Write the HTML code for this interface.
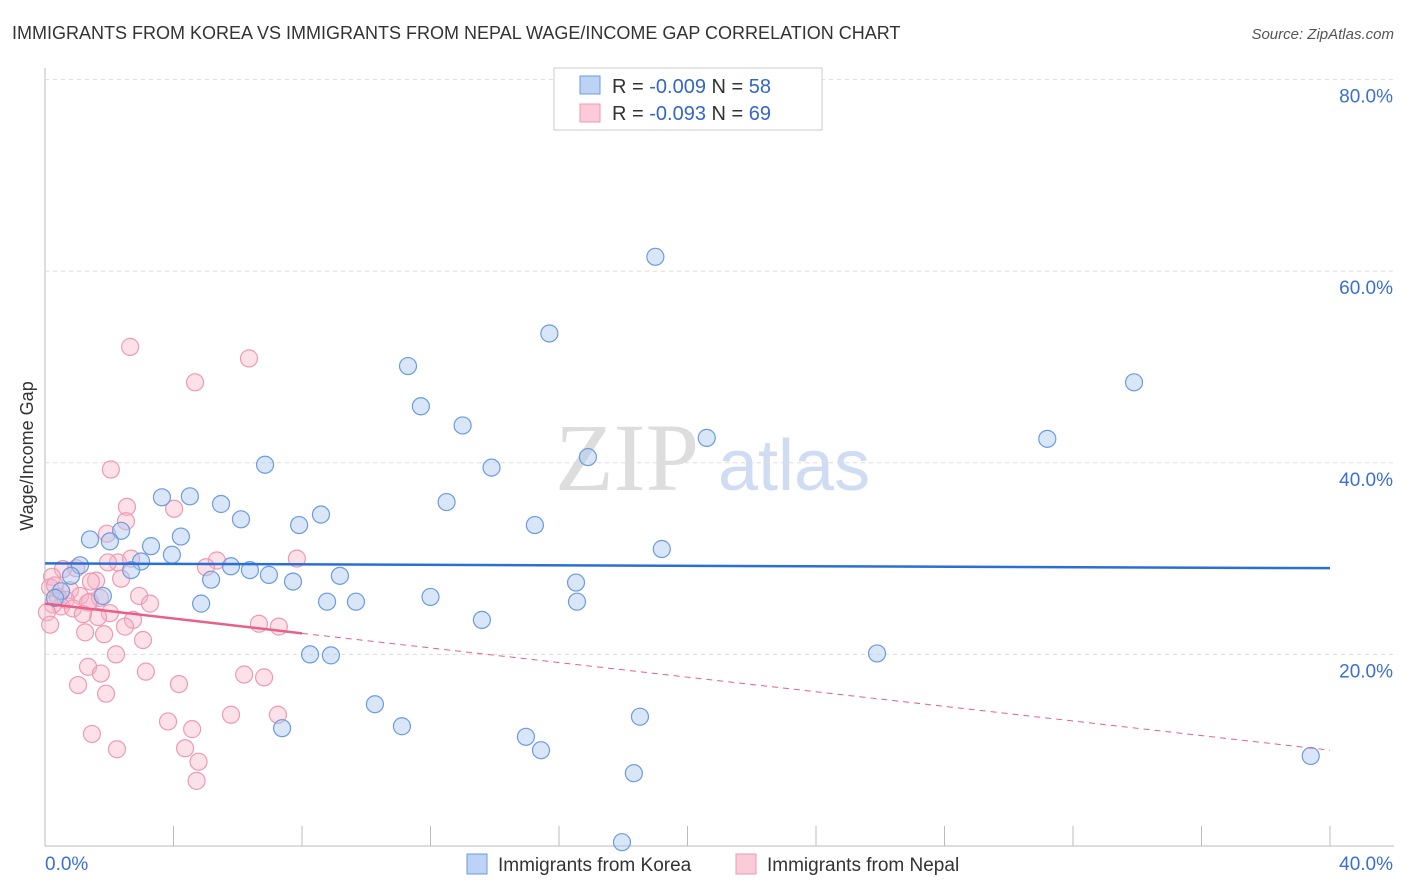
<!DOCTYPE html>
<html><head><meta charset="utf-8"><style>
body{margin:0;background:#fff;font-family:"Liberation Sans",sans-serif}
svg{display:block}
</style></head><body>
<svg id="c" width="1406" height="892">
<text x="12" y="39" font-size="18" fill="#333">IMMIGRANTS FROM KOREA VS IMMIGRANTS FROM NEPAL WAGE/INCOME GAP CORRELATION CHART</text>
<text x="1394" y="39" font-size="15" fill="#555" font-style="italic" text-anchor="end">Source: ZipAtlas.com</text>
<text x="33" y="456" font-size="18" fill="#333" text-anchor="middle" transform="rotate(-90 33 456)">Wage/Income Gap</text>
<g><text x="555" y="490" font-size="96" fill="#ddd" font-family="Liberation Serif,serif">ZIP</text><text x="718" y="490" font-size="72" fill="#cfdcf2">atlas</text></g>
<g id="grid"></g><g id="pts"></g><g id="lines"></g>
<g>
<rect x="554" y="68" width="268" height="62" fill="#fff" stroke="#ccc"/>
<rect x="580" y="76" width="20" height="18" fill="#bcd3f5" stroke="#6b9be0"/>
<rect x="580" y="104" width="20" height="18" fill="#fbcbd9" stroke="#ee9ab3"/>
<text x="612" y="93" font-size="20" fill="#333">R = <tspan fill="#3366cc">-0.009</tspan>   N = <tspan fill="#3366cc">58</tspan></text>
<text x="612" y="120" font-size="20" fill="#333">R = <tspan fill="#3366cc"> -0.093</tspan>   N = <tspan fill="#3366cc">69</tspan></text>
</g>
<g>
<rect x="467" y="854" width="20" height="20" fill="#bcd3f5" stroke="#6b9be0"/>
<text x="498" y="871" font-size="19" fill="#333">Immigrants from Korea</text>
<rect x="736" y="854" width="20" height="20" fill="#fbcbd9" stroke="#ee9ab3"/>
<text x="767" y="871" font-size="19" fill="#333">Immigrants from Nepal</text>
</g>
</svg>
<script>
const yTicks=[20,40,60,80];
const xTickLabels=["0.0%","40.0%"];
const korea=[[19.0,61.5],[15.7,53.5],[11.3,50.1],[33.9,48.4],[11.7,45.9],[13.0,43.9],[20.6,42.6],[31.2,42.5],[16.9,40.6],[6.85,39.8],[13.9,39.5],[3.64,36.4],[4.51,36.5],[12.5,35.9],[5.48,35.7],[6.1,34.1],[8.59,34.6],[7.91,33.5],[15.25,33.5],[2.37,32.9],[1.4,32.0],[4.23,32.3],[3.3,31.3],[2.02,31.8],[3.95,30.4],[19.2,31.0],[1.09,29.3],[2.99,29.7],[5.79,29.2],[6.38,28.8],[2.68,28.8],[6.97,28.3],[5.17,27.8],[7.72,27.6],[9.18,28.2],[16.53,27.5],[0.81,28.2],[1.8,26.1],[0.5,26.6],[0.31,25.9],[12.0,26.0],[8.78,25.5],[9.68,25.5],[16.56,25.5],[4.86,25.3],[13.6,23.6],[8.25,20.0],[8.9,19.9],[25.9,20.1],[10.27,14.8],[11.11,12.5],[7.38,12.3],[18.52,13.5],[14.97,11.4],[15.44,10.0],[18.33,7.6],[39.4,9.4],[17.96,0.4]];
const nepal=[[2.65,52.1],[6.35,50.9],[4.67,48.4],[2.05,39.3],[2.55,35.4],[4.02,35.2],[2.52,33.9],[1.93,32.6],[2.27,29.6],[2.68,30.0],[5.35,29.8],[7.84,30.0],[1.96,29.6],[5.01,29.1],[0.56,28.9],[0.97,29.0],[0.22,28.1],[2.37,27.9],[1.59,27.7],[1.43,27.6],[0.16,27.0],[0.31,27.2],[0.78,26.7],[0.4,26.0],[1.09,26.1],[2.93,26.1],[0.65,25.7],[1.4,25.5],[1.71,25.9],[3.27,25.3],[0.5,25.0],[0.25,25.2],[0.87,24.8],[1.34,25.4],[0.06,24.4],[2.02,24.3],[1.65,23.9],[2.74,23.6],[1.18,24.2],[2.49,22.9],[6.66,23.2],[7.28,22.9],[1.25,22.3],[1.84,22.1],[0.16,23.1],[3.05,21.5],[2.21,20.0],[1.34,18.7],[3.14,18.2],[4.17,16.9],[1.74,18.0],[6.2,17.9],[6.82,17.6],[1.03,16.8],[1.9,15.9],[1.46,11.7],[5.79,13.7],[7.25,13.7],[3.83,13.0],[4.58,12.2],[2.24,10.1],[4.36,10.2],[4.78,8.8],[4.72,6.8]];
const koreaTrend=[[0,29.5],[40,29.0]];
const nepalTrend=[[0,25.3],[8.0,22.2],[40,10.0]];
const X=v=>45+v*32.125, Y=v=>846-v*9.58;
const NS="http://www.w3.org/2000/svg";
function mk(t,a,p){const e=document.createElementNS(NS,t);for(const k in a)e.setAttribute(k,a[k]);p.appendChild(e);return e;}
const g=document.getElementById('grid');
mk('line',{x1:45,y1:68,x2:45,y2:846,stroke:'#bbb'},g);
mk('line',{x1:45,y1:846,x2:1394,y2:846,stroke:'#bbb'},g);
for(let i=0;i<=10;i++){const l=mk('line',{x1:X(i*4),y1:826,x2:X(i*4),y2:846,stroke:'#bbb'},g);

}
yTicks.forEach(t=>{const l=mk('line',{x1:45,y1:Y(t),x2:1394,y2:Y(t),stroke:'#ddd','stroke-dasharray':'4,4'},g);


const tx=mk('text',{x:1393,y:Y(t)+23,'font-size':19,fill:'#3b6fd1','text-anchor':'end'},g);tx.textContent=t.toFixed(1)+'%';

});
xTickLabels.forEach((s,i)=>{const tx=mk('text',{x:i?1393:45,y:870,'font-size':19,fill:'#3b6fd1','text-anchor':i?'end':'start'},g);tx.textContent=s;

});
const P=document.getElementById('pts');
nepal.forEach(d=>{const c=mk('circle',{cx:X(d[0]),cy:Y(d[1]),r:8.5,fill:'rgba(248,180,200,0.4)',stroke:'#ee9ab3','stroke-width':1.2},P);

});
korea.forEach(d=>{const c=mk('circle',{cx:X(d[0]),cy:Y(d[1]),r:8.5,fill:'rgba(170,200,240,0.45)',stroke:'#6b9be0','stroke-width':1.2},P);

});
const L=document.getElementById('lines');
let a=mk('line',{x1:X(koreaTrend[0][0]),y1:Y(koreaTrend[0][1]),x2:X(koreaTrend[1][0]),y2:Y(koreaTrend[1][1]),stroke:'#2a6fd6','stroke-width':2.5},L);


let b=mk('line',{x1:X(nepalTrend[0][0]),y1:Y(nepalTrend[0][1]),x2:X(nepalTrend[1][0]),y2:Y(nepalTrend[1][1]),stroke:'#e8608a','stroke-width':2.5},L);


let c2=mk('line',{x1:X(nepalTrend[1][0]),y1:Y(nepalTrend[1][1]),x2:X(nepalTrend[2][0]),y2:Y(nepalTrend[2][1]),stroke:'#e8608a','stroke-width':1,'stroke-dasharray':'6,5'},L);


</script>
</body></html>
